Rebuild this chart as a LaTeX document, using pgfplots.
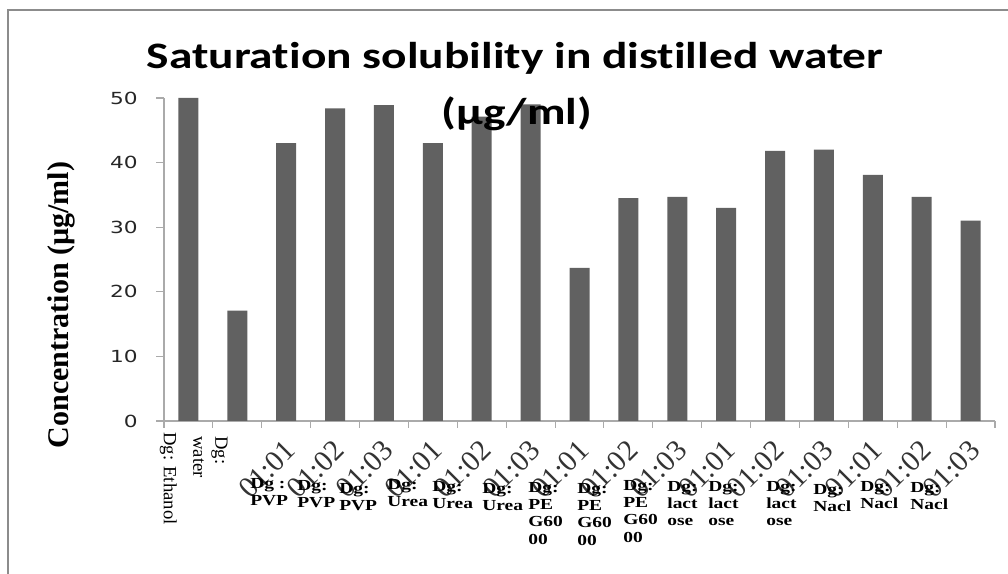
\documentclass[border=0pt]{standalone}
\usepackage{pgfplots}
\pgfplotsset{compat=1.18}
\usepackage{fontspec}
\setmainfont{Liberation Serif}
\newfontfamily\lserif{Liberation Serif}
\newfontfamily\carlito[Ligatures={NoCommon}]{Carlito}
\newfontfamily\dejavu{DejaVu Sans}
\definecolor{barc}{RGB}{97,97,97}
\definecolor{framec}{RGB}{140,140,140}
\definecolor{axc}{RGB}{170,170,170}
\begin{document}
\begin{tikzpicture}
\path[use as bounding box] (0,0) rectangle (756pt,430.5pt);
\draw[framec, line width=1.5pt] (6pt,0) -- (6pt,423pt) -- (756pt,423pt);
\begin{axis}[
  at={(123pt,114.75pt)}, anchor=south west,
  scale only axis, width=623.25pt, height=242.25pt,
  xmin=-0.5, xmax=16.5, ymin=0, ymax=50,
  axis lines*=left,
  axis line style={draw=axc, line width=0.8pt},
  clip=false,
  tick align=outside,
  major tick length=6pt,
  minor tick length=5pt,
  ytick={0,10,20,30,40,50},
  ytick style={draw=axc, line width=0.8pt},
  major x tick style={draw=none},
  minor x tick style={draw=axc, line width=0.8pt},
  minor xtick={-0.5,0.5,...,16.5},
  xtick={0,...,16},
  xticklabels={{},{},01:01,01:02,01:03,01:01,01:02,01:03,01:01,01:02,01:03,01:01,01:02,01:03,01:01,01:02,01:03},
  xticklabel style={xshift=-2pt, yshift=-7pt, rotate=45, anchor=north east, inner sep=0pt, font=\lserif\fontsize{22}{22}\selectfont, text=black!80},
  yticklabel style={font=\dejavu\fontsize{12.5}{13}\selectfont, text=black!85, anchor=east, inner sep=0pt, xshift=-13.5pt, xscale=1.3},
  /pgf/number format/assume math mode=true,
]
\addplot[ybar, bar width=15pt, fill=barc, draw=none] coordinates {
 (0,50) (1,17.1) (2,43) (3,48.4) (4,48.9) (5,43) (6,47.1) (7,49)
 (8,23.7) (9,34.5) (10,34.7) (11,33) (12,41.8) (13,42) (14,38.1) (15,34.7) (16,31)
};
% first two category names (rotated)
\node[yshift=-8.25pt, rotate=-90, anchor=west, inner sep=0pt, font=\lserif\fontsize{14}{16.5}\selectfont] at (axis cs:-0.409,0) {Dg: Ethanol};
\node[yshift=-11.25pt, rotate=-90, anchor=north west, align=left, inner sep=0pt, font=\lserif\fontsize{14}{16.5}\selectfont] at (axis cs:0.808,0) {Dg:\\water};
% bold category names
\tikzset{catl/.style={anchor=north west, align=left, inner sep=0pt, xscale=1.27, font=\lserif\bfseries\fontsize{11.5}{13}\selectfont}}
\node[catl, yshift=-42.75pt] at (axis cs:1.258,0) {Dg :\\PVP};
\node[catl, yshift=-44.25pt] at (axis cs:2.220,0) {Dg:\\PVP};
\node[catl, yshift=-46.5pt] at (axis cs:3.079,0) {Dg:\\PVP};
\node[catl, yshift=-43.5pt] at (axis cs:4.061,0) {Dg:\\Urea};
\node[catl, yshift=-45pt] at (axis cs:4.981,0) {Dg:\\Urea};
\node[catl, yshift=-46.5pt] at (axis cs:6.004,0) {Dg:\\Urea};
\node[catl, yshift=-45.75pt] at (axis cs:6.946,0) {Dg:\\PE\\G60\\00};
\node[catl, yshift=-46.5pt] at (axis cs:7.948,0) {Dg:\\PE\\G60\\00};
\node[catl, yshift=-44.25pt] at (axis cs:8.889,0) {Dg:\\PE\\G60\\00};
\node[catl, yshift=-45pt] at (axis cs:9.790,0) {Dg:\\lact\\ose};
\node[catl, yshift=-45pt] at (axis cs:10.628,0) {Dg:\\lact\\ose};
\node[catl, yshift=-45pt] at (axis cs:11.815,0) {Dg:\\lact\\ose};
\node[catl, yshift=-47.25pt] at (axis cs:12.777,0) {Dg:\\Nacl};
\node[catl, yshift=-45pt] at (axis cs:13.739,0) {Dg:\\Nacl};
\node[catl, yshift=-45.75pt] at (axis cs:14.762,0) {Dg:\\Nacl};
\end{axis}
% y label
\node[rotate=90, font=\lserif\bfseries\fontsize{22.5}{24}\selectfont] at (45.75pt,201.75pt) {Concentration (µg/ml)};
% title
\node[anchor=base, xscale=1.27, font=\carlito\bfseries\fontsize{28}{34}\selectfont] at (386.25pt,379pt) {Saturation solubility in distilled water};
\node[anchor=base, xscale=1.27, font=\carlito\bfseries\fontsize{28}{34}\selectfont] at (387.75pt,337pt) {(µg/ml)};
\end{tikzpicture}
\end{document}
